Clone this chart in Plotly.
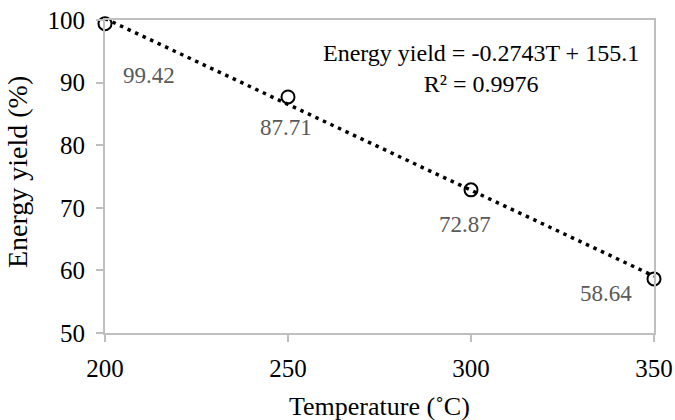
import plotly.graph_objects as go

# Measured energy yield at each reaction temperature
temperature = [200, 250, 300, 350]
energy_yield = [99.42, 87.71, 72.87, 58.64]

# Linear fit reported on the chart
slope = -0.2743
intercept = 155.1
r_squared = 0.9976

x_ticks = [200, 250, 300, 350]
y_ticks = [50, 60, 70, 80, 90, 100]

# Label placement offsets (pixels) for each data label
label_dx = [44, -2, -6, -48]
label_dy = [-52, -31, -35, -15]

FONT = "Liberation Serif"
AXIS_GREY = "#BFBFBF"

fit_x = [temperature[0], temperature[-1]]
fit_y = [slope * t + intercept for t in fit_x]

fig = go.Figure()

fig.add_trace(go.Scatter(
    x=fit_x, y=fit_y, mode="lines",
    line=dict(color="black", width=3.5, dash="3.5px,4.8px"),
    hoverinfo="skip", showlegend=False, cliponaxis=False,
))

fig.add_trace(go.Scatter(
    x=temperature, y=energy_yield, mode="markers",
    marker=dict(symbol="circle-open", size=13, color="black",
                line=dict(color="black", width=2)),
    showlegend=False, cliponaxis=False,
))

for t, e, dx, dy in zip(temperature, energy_yield, label_dx, label_dy):
    fig.add_annotation(
        x=t, y=e, text=f"{e:.2f}", showarrow=False,
        xshift=dx, yshift=dy,
        font=dict(family=FONT, size=23, color="#595959"),
    )

fig.add_annotation(
    xref="paper", yref="paper", x=0.685, y=0.845,
    xanchor="center", yanchor="middle",
    text=f"Energy yield = {slope}T + {intercept}<br>R² = {r_squared}",
    showarrow=False, align="center",
    font=dict(family=FONT, size=24, color="black"),
)

# Axis titles
fig.add_annotation(
    xref="paper", yref="paper", x=0.5, y=-0.235,
    xanchor="center", yanchor="middle",
    text="Temperature (˚C)", showarrow=False,
    font=dict(family=FONT, size=26, color="black"),
)
fig.add_annotation(
    xref="paper", yref="paper", x=-0.158, y=0.515,
    xanchor="center", yanchor="middle", textangle=-90,
    text="Energy yield (%)", showarrow=False,
    font=dict(family=FONT, size=28, color="black"),
)

fig.update_layout(
    width=675, height=420,
    margin=dict(l=105, r=21, t=20, b=87),
    paper_bgcolor="white", plot_bgcolor="white",
    font=dict(family=FONT, size=25, color="black"),
    xaxis=dict(
        range=[200, 350], tickvals=x_ticks, showgrid=False, zeroline=False,
        showline=True, linecolor=AXIS_GREY, linewidth=2, mirror=True,
        ticks="outside", ticklen=7, tickcolor=AXIS_GREY, tickwidth=1.5,
        ticklabelstandoff=5, automargin=False,
        tickfont=dict(family=FONT, size=25),
    ),
    yaxis=dict(
        range=[50, 100], tickvals=y_ticks, showgrid=False, zeroline=False,
        showline=True, linecolor=AXIS_GREY, linewidth=2, mirror=True,
        ticks="outside", ticklen=7, tickcolor=AXIS_GREY, tickwidth=1.5,
        ticklabelstandoff=6, automargin=False,
        tickfont=dict(family=FONT, size=25),
    ),
)

fig.write_html("out.html")
